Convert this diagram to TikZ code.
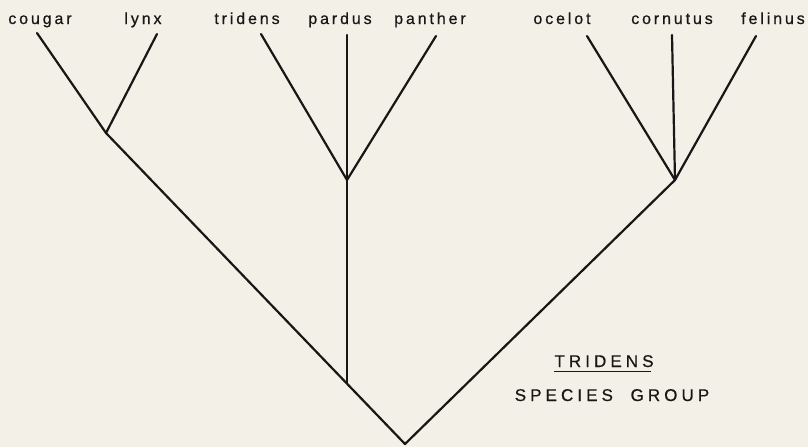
\documentclass[tikz,border=0pt]{standalone}
\usepackage{fontspec}
\setmainfont{Liberation Sans}
\newfontfamily\lblfont[LetterSpace=18,FakeBold=0.6]{Liberation Sans}
\newfontfamily\capfont[LetterSpace=24,FakeBold=0.6]{Liberation Sans}
\definecolor{paper}{RGB}{243,240,232}
\definecolor{ink}{RGB}{25,22,22}
\tikzset{
  branch/.style={draw=ink, line width=2.2pt, line cap=round, line join=round},
  taxon/.style={anchor=base, inner sep=0pt, text=ink, font=\lblfont\fontsize{16}{18}\selectfont},
  grouplbl/.style={anchor=base, inner sep=0pt, text=ink, font=\capfont\fontsize{17}{19}\selectfont}
}
\begin{document}
\begin{tikzpicture}[x=1pt,y=-1pt]
\fill[paper] (0,0) rectangle (808,447);
\useasboundingbox (0,0) rectangle (808,447);
% labels
\node[taxon] (cougar) at (40,24) {cougar};
\node[taxon] (lynx) at (143,24) {lynx};
\node[taxon] (tridens) at (247,24) {tridens};
\node[taxon] (pardus) at (340,24) {pardus};
\node[taxon] (panther) at (430,24) {panther};
\node[taxon] (ocelot) at (562,24) {ocelot};
\node[taxon] (cornutus) at (672,24) {cornutus};
\node[taxon] (felinus) at (773,24) {felinus};
% tips
\coordinate (tcougar) at (37,33);
\coordinate (tlynx) at (157,34);
\coordinate (ttridens) at (261,34);
\coordinate (tpardus) at (347,35);
\coordinate (tpanther) at (436,36);
\coordinate (tocelot) at (587,36);
\coordinate (tcornutus) at (672,35);
\coordinate (tfelinus) at (756,36);
% junctions
\coordinate (jleft) at (106,133);
\coordinate (jmid) at (347,180);
\coordinate (jright) at (675,180);
\coordinate (jpardus) at (347,383);
\coordinate (root) at (405,444);
% branches
\draw[branch] (tcougar) -- (jleft) -- (tlynx);
\draw[branch] (jleft) -- (root) -- (jright);
\draw[branch] (ttridens) -- (jmid) -- (tpanther);
\draw[branch] (tpardus) -- (jmid) -- (jpardus);
\draw[branch] (tocelot) -- (jright) -- (tfelinus);
\draw[branch] (tcornutus) -- (jright);
% group label
\node[grouplbl] (grp) at (604,367) {TRIDENS};
\draw[draw=ink, line width=1.3pt] ([yshift=-4.5pt]grp.base west) -- ([yshift=-4.5pt,xshift=-3pt]grp.base east);
\node[grouplbl] (species) at (612,401) {SPECIES\ \ GROUP};
\end{tikzpicture}
\end{document}
